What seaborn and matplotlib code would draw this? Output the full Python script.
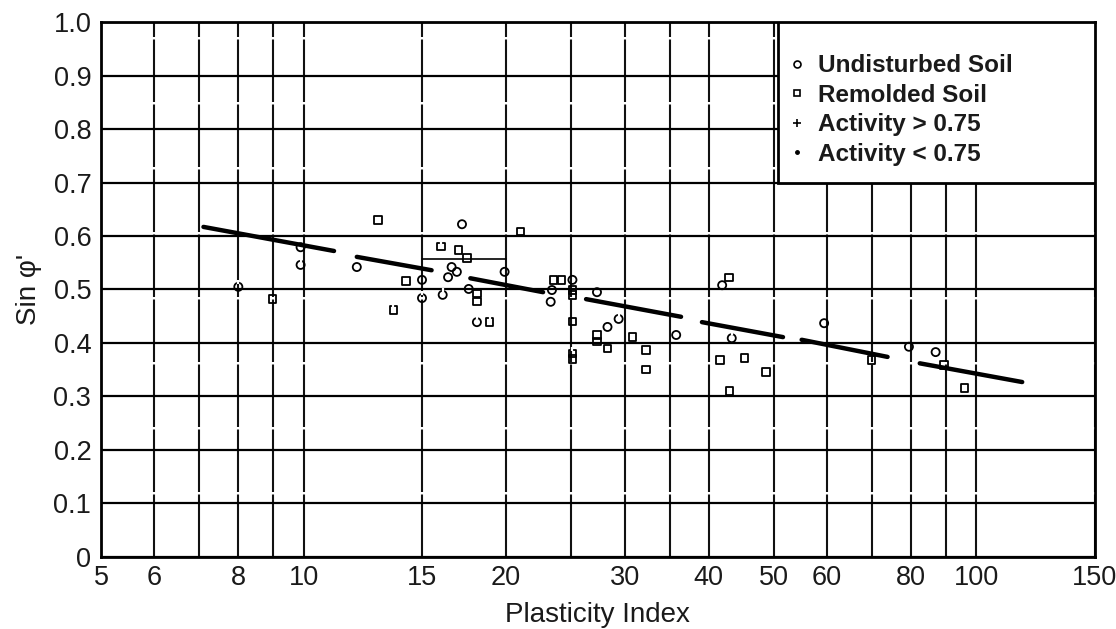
import seaborn as sns
import pandas as pd
import matplotlib
matplotlib.use('Agg')
import matplotlib.pyplot as plt
from matplotlib.lines import Line2D
from matplotlib.patches import Rectangle
from matplotlib.path import Path
from matplotlib.ticker import FixedLocator, FixedFormatter, NullFormatter

#-----------------------------------------------------------------------------------------------------------------------
"""Data read off the chart"""
#Plasticity index and sin(phi') for each test
pi_vals = [8.0, 9.0, 9.9, 9.9, 12.0, 12.9, 13.6, 14.2, 15.0, 15.0,
           16.0, 16.1, 16.4, 16.6, 16.9, 17.0, 17.2, 17.5, 17.6, 18.1,
           18.1, 18.1, 18.9, 19.9, 21.0, 23.4, 23.3, 23.5, 24.2, 25.1,
           25.1, 25.1, 25.1, 25.1, 25.1, 27.3, 27.3, 27.3, 28.3, 28.3,
           29.4, 30.8, 32.3, 32.3, 35.8, 41.9, 42.9, 43.3, 41.6, 45.2,
           48.7, 43.0, 59.4, 69.8, 79.4, 87.0, 89.5, 96.0]
sin_vals = [0.505, 0.482, 0.579, 0.546, 0.542, 0.630, 0.462, 0.516, 0.518, 0.484,
            0.580, 0.490, 0.523, 0.542, 0.533, 0.574, 0.622, 0.559, 0.501, 0.492,
            0.478, 0.439, 0.439, 0.533, 0.608, 0.499, 0.477, 0.518, 0.518, 0.518,
            0.499, 0.490, 0.440, 0.380, 0.370, 0.495, 0.415, 0.403, 0.430, 0.390,
            0.445, 0.411, 0.387, 0.350, 0.415, 0.508, 0.523, 0.409, 0.368, 0.372,
            0.346, 0.310, 0.437, 0.368, 0.393, 0.383, 0.359, 0.316]
soil = ['U', 'R', 'U', 'U', 'U', 'R', 'R', 'R', 'U', 'U',
        'R', 'U', 'U', 'U', 'U', 'R', 'U', 'R', 'U', 'R',
        'R', 'U', 'R', 'U', 'R', 'U', 'U', 'R', 'R', 'U',
        'R', 'R', 'R', 'R', 'R', 'U', 'R', 'R', 'U', 'R',
        'U', 'R', 'R', 'R', 'U', 'U', 'R', 'U', 'R', 'R',
        'R', 'R', 'U', 'R', 'U', 'U', 'R', 'R']
activity = ['H', 'L', 'L', 'H', 'L', 'L', 'H', 'L', 'L', 'H',
            'H', 'H', 'L', 'L', 'L', 'L', 'L', 'L', 'L', 'L',
            'L', 'H', 'H', 'L', 'L', 'L', 'L', 'L', 'L', 'L',
            'L', 'L', 'L', 'H', 'L', 'L', 'L', 'L', 'L', 'L',
            'H', 'L', 'L', 'L', 'L', 'L', 'L', 'H', 'L', 'L',
            'L', 'L', 'L', 'L', 'L', 'L', 'L', 'L']

#Dashed trend line, one entry per dash
trend_pi_start = [7.1, 12.0, 17.7, 26.3, 39.1, 55.0, 82.4]
trend_pi_end = [11.1, 15.5, 22.7, 36.4, 51.6, 73.8, 117.0]
trend_sin_start = [0.617, 0.561, 0.521, 0.482, 0.439, 0.406, 0.362]
trend_sin_end = [0.572, 0.536, 0.495, 0.449, 0.411, 0.374, 0.327]

#Small bracket drawn over the PI 15-20 cluster
bracket_pi = [15, 20]
bracket_sin = [0.557, 0.557]

#Axis ticks
x_major = [5, 6, 8, 10, 15, 20, 30, 40, 50, 60, 80, 100, 150]
x_minor = [7, 9, 25, 35, 70, 90]
y_ticks = [0, 0.1, 0.2, 0.3, 0.4, 0.5, 0.6, 0.7, 0.8, 0.9, 1.0]
y_labels = ['0', '0.1', '0.2', '0.3', '0.4', '0.5', '0.6', '0.7', '0.8', '0.9', '1.0']

df = pd.DataFrame({'PI': pi_vals, 'Sin': sin_vals, 'Soil': soil, 'Activity': activity})

rows = []
for i in range(len(trend_pi_start)):
    rows.append({'PI': trend_pi_start[i], 'Sin': trend_sin_start[i], 'seg': i})
    rows.append({'PI': trend_pi_end[i], 'Sin': trend_sin_end[i], 'seg': i})
dfTrend = pd.DataFrame(rows)

#-----------------------------------------------------------------------------------------------------------------------
"""Creating the Figure"""
sns.set_style('white')
plt.rcParams['font.family'] = ['Liberation Sans', 'DejaVu Sans']
MyFont = ['Liberation Sans', 'DejaVu Sans']

fig = plt.figure(figsize=(11.16, 6.29), dpi=100)
ax = fig.add_axes([0.0905, 0.1145, 0.8905, 0.8505])
fig.patch.set_facecolor('white')
ax.set_facecolor('white')

ax.set_xscale('log')
ax.set_xlim(5, 150)
ax.set_ylim(0, 1.0)

#Grid
ax.xaxis.set_major_locator(FixedLocator(x_major))
ax.xaxis.set_major_formatter(FixedFormatter([str(v) for v in x_major]))
ax.xaxis.set_minor_locator(FixedLocator(x_minor))
ax.xaxis.set_minor_formatter(NullFormatter())
ax.set_yticks(y_ticks)
ax.set_yticklabels(y_labels)
ax.grid(True, which='both', axis='x', color='#111111', linewidth=1.5, linestyle=(0, (30, 1.2)))
ax.grid(True, which='major', axis='y', color='black', linewidth=1.6)
ax.set_axisbelow(True)

for s in ax.spines.values():
    s.set_color('black')
    s.set_linewidth(2)

ax.tick_params(axis='both', which='both', length=0, labelsize=19.5, colors='#1a1a1a')
ax.tick_params(axis='x', pad=6)
ax.tick_params(axis='y', pad=7)

#-----------------------------------------------------------------------------------------------------------------------
"""Plotting Points"""
dfU = df[df['Soil'] == 'U']
dfR = df[df['Soil'] == 'R']
sns.scatterplot(data=dfU, x='PI', y='Sin', marker='o', s=34, facecolor='none',
                edgecolor='black', linewidth=1.3, ax=ax, zorder=3)
sns.scatterplot(data=dfR, x='PI', y='Sin', marker='s', s=28, facecolor='none',
                edgecolor='black', linewidth=1.3, ax=ax, zorder=3)

#Activity tick sitting on top of the marker
tick_path = Path([(0, 1.0), (0, 2.4)], [Path.MOVETO, Path.LINETO])
dfH = df[df['Activity'] == 'H']
sns.scatterplot(data=dfH, x='PI', y='Sin', marker=tick_path, s=90, color='black',
                linewidth=1.6, ax=ax, zorder=3)

#Trend line dashes
sns.lineplot(data=dfTrend, x='PI', y='Sin', units='seg', estimator=None, color='black',
             linewidth=3.2, ax=ax, zorder=4)
sns.lineplot(x=bracket_pi, y=bracket_sin, color='black', linewidth=1.2, ax=ax, zorder=2)

#-----------------------------------------------------------------------------------------------------------------------
"""Titles and Axes"""
ax.set_xlabel('Plasticity Index', fontsize=20, color='#1a1a1a', labelpad=8)
ax.set_ylabel("Sin \u03c6'", fontsize=20, color='#1a1a1a', labelpad=8)

#Legend box, flush with the top right corner and resting on the 0.7 line
box = Rectangle((0.681, 0.7), 0.319, 0.3, transform=ax.transAxes, facecolor='white',
                edgecolor='black', linewidth=2, zorder=5)
ax.add_patch(box)

handles = [
    Line2D([], [], linestyle='none', marker='o', markersize=5, markerfacecolor='none',
           markeredgecolor='black', markeredgewidth=1.2),
    Line2D([], [], linestyle='none', marker='s', markersize=5, markerfacecolor='none',
           markeredgecolor='black', markeredgewidth=1.2),
    Line2D([], [], linestyle='none', marker='+', markersize=6, markeredgecolor='black',
           markeredgewidth=1.2),
    Line2D([], [], linestyle='none', marker='.', markersize=5, color='black'),
]
labels = ['Undisturbed Soil', 'Remolded Soil', 'Activity > 0.75', 'Activity < 0.75']
leg = ax.legend(handles, labels, loc='upper left', bbox_to_anchor=(0.693, 0.94),
                borderaxespad=0, frameon=False,
                prop={'family': MyFont, 'size': 17.5, 'weight': 'bold'},
                borderpad=0, labelspacing=0.27, handlelength=0.6, handletextpad=0.55)
leg.set_zorder(6)
for t in leg.get_texts():
    t.set_color('#1a1a1a')

#-----------------------------------------------------------------------------------------------------------------------
"""Saving the Graph"""
fig.savefig('out.png', dpi=100)
